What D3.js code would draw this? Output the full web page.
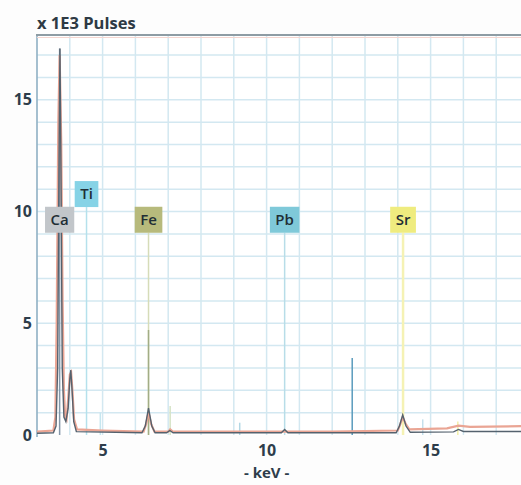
<!DOCTYPE html>
<html>
<head>
<meta charset="utf-8">
<script src="https://cdn.jsdelivr.net/npm/d3@7"></script>
<style>
  body { margin: 0; background: #fdfdfd; }
  svg { display: block; font-family: "Open Sans", sans-serif; }
</style>
</head>
<body>
<div id="chart"></div>
<script>
const width = 521;
const height = 485;

// spectra: [keV, x1000 pulses]
const darkSpectrum = [
  [3.00, 0.08], [3.50, 0.10], [3.58, 0.4], [3.63, 3.0], [3.67, 12.0], [3.70, 17.3],
  [3.73, 12.0], [3.77, 3.0], [3.82, 0.8], [3.88, 0.6], [3.95, 1.2], [4.00, 2.5],
  [4.03, 2.9], [4.07, 2.0], [4.12, 0.6], [4.20, 0.15], [6.20, 0.10], [6.30, 0.4],
  [6.40, 1.2], [6.50, 0.4], [6.60, 0.10], [6.95, 0.10], [7.05, 0.2], [7.15, 0.10],
  [10.45, 0.10], [10.55, 0.25], [10.65, 0.10], [13.95, 0.10], [14.05, 0.4], [14.15, 0.9],
  [14.25, 0.4], [14.38, 0.12], [15.70, 0.14], [15.85, 0.25], [16.00, 0.16], [18.00, 0.16]
];
const redSpectrum = [
  [3.00, 0.15], [3.50, 0.2], [3.56, 0.8], [3.60, 5.0], [3.65, 14.0], [3.69, 17.0],
  [3.74, 13.0], [3.78, 6.0], [3.82, 2.0], [3.86, 0.8], [3.90, 0.7], [3.95, 1.6],
  [4.00, 2.7], [4.04, 2.8], [4.08, 2.0], [4.13, 0.7], [4.22, 0.25], [5.00, 0.2],
  [6.25, 0.15], [6.33, 0.5], [6.40, 1.0], [6.48, 0.5], [6.58, 0.15], [7.00, 0.15],
  [7.06, 0.25], [7.14, 0.15], [12.00, 0.15], [14.00, 0.2], [14.08, 0.5], [14.15, 0.8],
  [14.24, 0.5], [14.35, 0.25], [15.50, 0.3], [15.85, 0.42], [16.20, 0.36], [18.00, 0.4]
];

// element labels
const elements = ["Ca", "Ti", "Fe", "Pb", "Sr"];
const elementKeV = [3.69, 4.51, 6.40, 10.55, 14.16];
const labelLevel = [9.05, 10.2, 9.05, 9.05, 9.05];
const labelColors = ["#c2c6ca", "#86d3e6", "#b7ba7c", "#7fc9d9", "#efec7f"];
const markerColors = ["#8497a9", "#b5e1ec", "#d6dcb8", "#b8dde8", "#f5f2b4"];

// short emission lines: energy, height, colour
const lineKeV = [4.93, 6.40, 7.06, 9.18, 12.61, 14.76, 15.83];
const lineHeight = [1.0, 4.7, 1.3, 0.55, 3.45, 0.7, 0.6];
const lineColors = ["#c6e6ef", "#a2ad85", "#d5e3c6", "#b2d7e5", "#5a9bbd", "#c4e0ec", "#f3f0a8"];

const yTicks = [0, 5, 10, 15];
const xTicks = [5, 10, 15];

const margin = { left: 37, top: 35, bottom: 435 };

const x = d3.scaleLinear().domain([3, 18]).range([margin.left, margin.left + 15 * 32.8]);
const y = d3.scaleLinear().domain([0, 17.9]).range([margin.bottom, margin.top]);

const svg = d3.select("#chart").append("svg")
  .attr("width", width)
  .attr("height", height);

svg.append("defs").append("clipPath").attr("id", "plot-clip")
  .append("rect")
  .attr("x", margin.left).attr("y", margin.top)
  .attr("width", width - margin.left).attr("height", margin.bottom - margin.top + 2);

svg.append("rect")
  .attr("x", margin.left).attr("y", margin.top)
  .attr("width", width - margin.left).attr("height", margin.bottom - margin.top)
  .attr("fill", "#ffffff");

// grid
const grid = svg.append("g").attr("stroke", "#d3e8f1").attr("stroke-width", 1.5);
grid.selectAll(".gx")
  .data(d3.range(4, 19))
  .join("line")
  .attr("x1", d => x(d)).attr("x2", d => x(d))
  .attr("y1", margin.top).attr("y2", margin.bottom);
grid.selectAll(".gy")
  .data(d3.range(1, 18))
  .join("line")
  .attr("x1", margin.left).attr("x2", width)
  .attr("y1", d => y(d)).attr("y2", d => y(d));

// borders
svg.append("line")
  .attr("x1", margin.left).attr("x2", margin.left)
  .attr("y1", margin.top).attr("y2", margin.bottom + 2)
  .attr("stroke", "#8fb0c4").attr("stroke-width", 1.6);
svg.append("line")
  .attr("x1", margin.left).attr("x2", width)
  .attr("y1", margin.top + 2.5).attr("y2", margin.top + 2.5)
  .attr("stroke", "#f4d6d0").attr("stroke-width", 1);
svg.append("line")
  .attr("x1", margin.left - 1).attr("x2", width)
  .attr("y1", margin.top).attr("y2", margin.top)
  .attr("stroke", "#8e9ca4").attr("stroke-width", 2.2);

const plot = svg.append("g").attr("clip-path", "url(#plot-clip)");

// tall marker lines for labelled elements
plot.selectAll(".marker")
  .data(elements)
  .join("line")
  .attr("x1", (d, i) => x(elementKeV[i]))
  .attr("x2", (d, i) => x(elementKeV[i]))
  .attr("y1", (d, i) => i === 0 ? y(17.3) : y(labelLevel[i]))
  .attr("y2", y(0))
  .attr("stroke", (d, i) => markerColors[i])
  .attr("stroke-width", (d, i) => i === 4 ? 2.5 : 1.5);

// short emission lines
plot.selectAll(".eline")
  .data(lineKeV)
  .join("line")
  .attr("x1", d => x(d)).attr("x2", d => x(d))
  .attr("y1", (d, i) => y(lineHeight[i]))
  .attr("y2", y(0))
  .attr("stroke", (d, i) => lineColors[i])
  .attr("stroke-width", 1.5);

const line = d3.line().x(d => x(d[0])).y(d => y(d[1]));

plot.append("path")
  .datum(redSpectrum)
  .attr("d", line)
  .attr("fill", "none")
  .attr("stroke", "#eaa594")
  .attr("stroke-width", 2.2);

plot.append("path")
  .datum(darkSpectrum)
  .attr("d", line)
  .attr("fill", "none")
  .attr("stroke", "#55626e")
  .attr("stroke-width", 1.4);

// labels
const labels = svg.selectAll(".elabel")
  .data(elements)
  .join("g")
  .attr("transform", (d, i) => `translate(${x(elementKeV[i])},${y(labelLevel[i])})`);

labels.append("text")
  .attr("text-anchor", "middle")
  .attr("y", -8)
  .attr("font-size", 15)
  .attr("font-weight", 600)
  .attr("fill", "#1f2e35")
  .text(d => d)
  .each(function(d, i) {
    const w = this.getComputedTextLength() + 11;
    d3.select(this.parentNode).insert("rect", "text")
      .attr("x", -w / 2).attr("y", -26)
      .attr("width", w).attr("height", 26)
      .attr("fill", labelColors[i]);
  });

// axes
const yAxis = svg.append("g")
  .attr("transform", `translate(${margin.left},0)`)
  .call(d3.axisLeft(y).tickValues(yTicks).tickSize(0).tickPadding(5));
const xAxis = svg.append("g")
  .attr("transform", `translate(0,${margin.bottom})`)
  .call(d3.axisBottom(x).tickValues(xTicks).tickSize(0).tickPadding(10));
[yAxis, xAxis].forEach(a => {
  a.select(".domain").remove();
  a.selectAll("text")
    .attr("font-family", "Open Sans, sans-serif")
    .attr("font-size", 16)
    .attr("font-weight", 700)
    .attr("fill", "#2e3d4b");
});

svg.append("text")
  .attr("x", 37).attr("y", 29)
  .attr("font-size", 16.5)
  .attr("font-weight", 700)
  .attr("fill", "#2e3a44")
  .text("x 1E3 Pulses");

svg.append("text")
  .attr("x", x(10)).attr("y", 478)
  .attr("text-anchor", "middle")
  .attr("font-size", 15)
  .attr("font-weight", 700)
  .attr("fill", "#2e3d4b")
  .text("- keV -");
</script>
</body>
</html>
